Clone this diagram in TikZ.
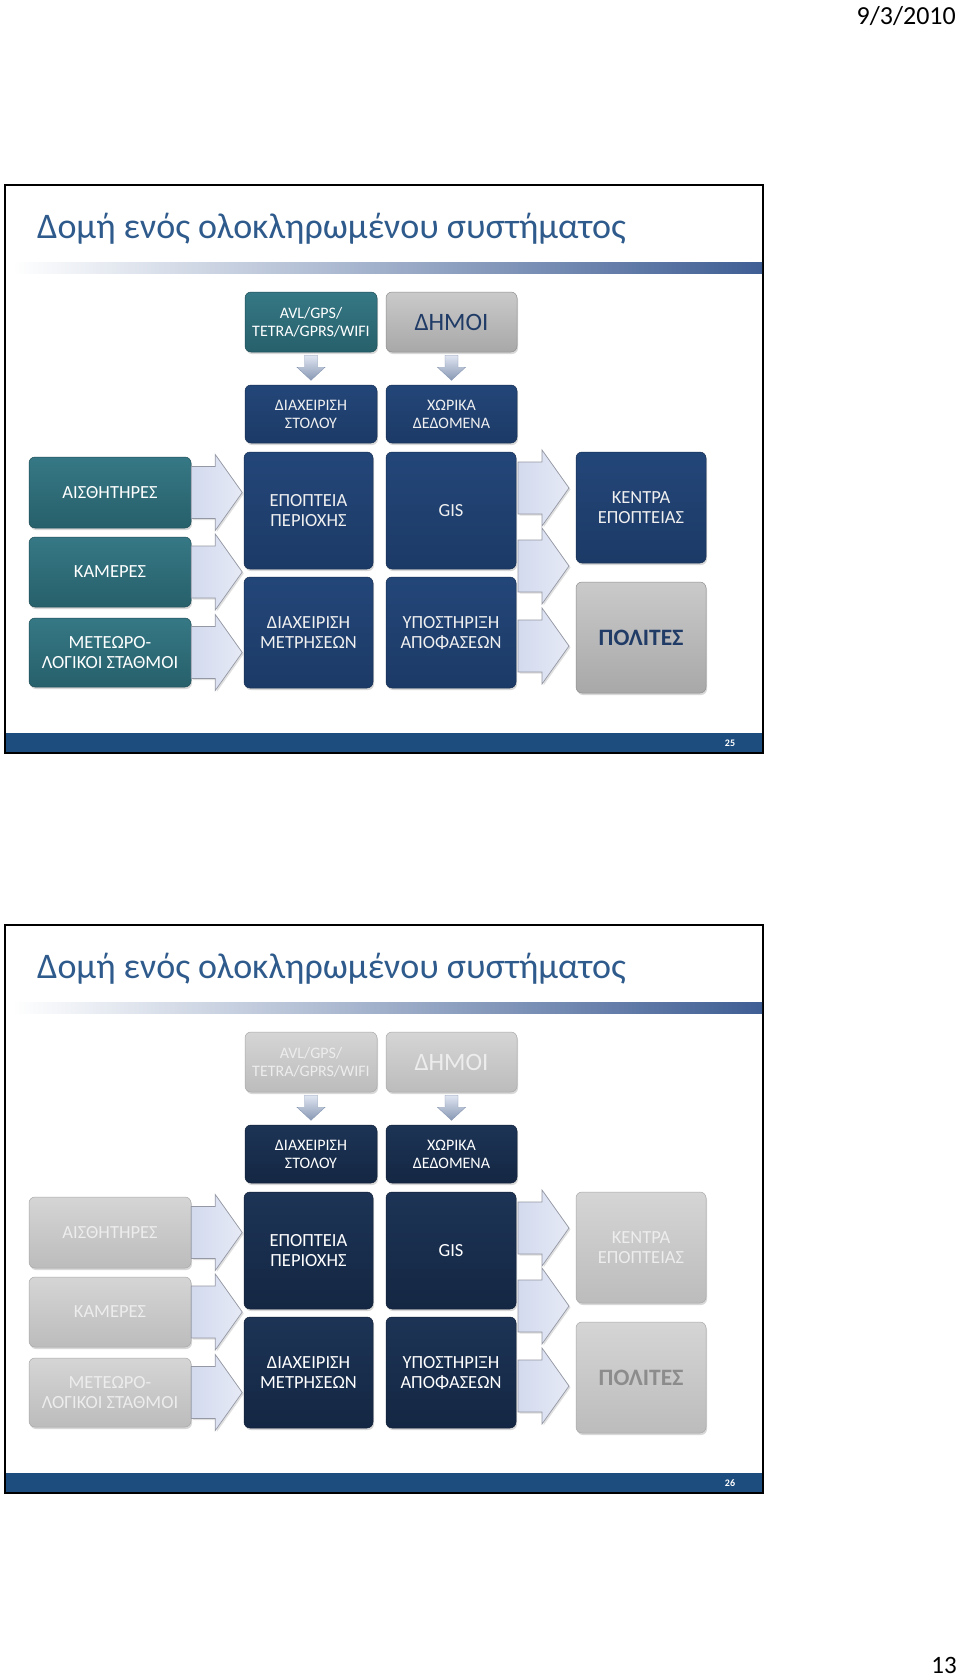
\documentclass[tikz,border=0pt]{standalone}
\usepackage{fontspec}
\setmainfont{Carlito}
\usetikzlibrary{shadows}
\definecolor{titleblue}{HTML}{2E5A8C}
\definecolor{barblue}{HTML}{1D4C7E}
\definecolor{gradblue}{HTML}{3F5E94}
\definecolor{tealT}{HTML}{367885}
\definecolor{tealB}{HTML}{26606B}
\definecolor{navyT}{HTML}{234679}
\definecolor{navyB}{HTML}{1C3A66}
\definecolor{darkT}{HTML}{1D3456}
\definecolor{darkB}{HTML}{142743}
\definecolor{greyT}{HTML}{CACACA}
\definecolor{greyB}{HTML}{A8A8A8}
\definecolor{dimT}{HTML}{D5D5D5}
\definecolor{dimB}{HTML}{BCBCBC}
\definecolor{navytext}{HTML}{1F3B66}
\definecolor{chevL}{HTML}{E6EAF6}
\definecolor{chevR}{HTML}{D3DAEE}
\definecolor{chevline}{HTML}{9498A4}
\definecolor{darrT}{HTML}{E0E6F2}
\definecolor{darrB}{HTML}{8797B3}
\newcommand\setfs[2]{\fontsize{#1}{#2}\selectfont}
\tikzset{
  box/.style={rounded corners=6pt, inner sep=0pt, align=center,
    drop shadow={shadow xshift=1pt, shadow yshift=-2pt, opacity=0.3}},
  dims/.style 2 args={minimum width=#1, minimum height=#2},
  tealbox/.style={box, top color=tealT, bottom color=tealB, draw=tealB!80!black, line width=0.5pt, text=white},
  navybox/.style={box, top color=navyT, bottom color=navyB, draw=navyB!80!black, line width=0.5pt, text=white!94!black},
  darkbox/.style={box, top color=darkT, bottom color=darkB, draw=darkB!80!black, line width=0.5pt, text=white},
  greybox/.style={box, top color=greyT, bottom color=greyB, draw=greyB!85!black, line width=0.5pt, text=navytext},
  dimbox/.style={box, top color=dimT, bottom color=dimB, draw=dimB!90!black, line width=0.5pt, text=white!93!black},
  greyboldbox/.style={greybox},
  dimboldbox/.style={dimbox, text=black!45},
  chevstyle/.style={left color=chevR, right color=chevL, draw=chevline, line width=0.7pt, line join=miter,
    drop shadow={shadow xshift=1.5pt, shadow yshift=-1.5pt, opacity=0.25}},
  darrstyle/.style={top color=darrT, bottom color=darrB, draw=darrB, line width=0.4pt},
  chevron/.pic={\path[chevstyle] (0,-26) -- (24,-26) -- (24,-38) -- (51,0) -- (24,38) -- (24,26) -- (0,26) -- cycle;},
  downarr/.pic={\path[darrstyle] (-6.5,0) -- (-6.5,12) -- (-14,12) -- (0,25) -- (14,12) -- (6.5,12) -- (6.5,0) -- cycle;},
}
\newcommand\drawslide[8]{%
\begin{scope}[yshift=#1]
  \draw[line width=2pt] (5,185) rectangle (763,753);
  \node[anchor=base west, inner sep=0pt, text=titleblue, font=\setfs{36}{40}] (title#2) at (37,238) {Δομή ενός ολοκληρωμένου συστήματος};
  \shade[left color=white, right color=gradblue] (12,262) rectangle (762,273);
  \fill[barblue] (6,733) rectangle (762,752);
  \node[text=white, font=\bfseries\setfs{10}{12}] (pg#2) at (730,743) {#8};
  % top row
  \node[#3, dims={132pt}{60pt}, font=\setfs{16}{18}] (avl#2) at (311,322) {AVL/GPS/\\TETRA/GPRS/WIFI};
  \node[#5, dims={131pt}{60pt}, font=\setfs{25}{28}] (dimoi#2) at (451.5,322) {ΔΗΜΟΙ};
  \node[#4, dims={132pt}{58pt}, font=\setfs{16}{18}] (stol#2) at (311,414) {ΔΙΑΧΕΙΡΙΣΗ\\ΣΤΟΛΟΥ};
  \node[#4, dims={131pt}{58pt}, font=\setfs{16}{18}] (xor#2) at (451.5,414) {ΧΩΡΙΚΑ\\ΔΕΔΟΜΕΝΑ};
  \pic (da#2) at ([yshift=-3pt]avl#2.south) {downarr};
  \pic (db#2) at ([yshift=-3pt]dimoi#2.south) {downarr};
  % middle blocks
  \node[#4, dims={129pt}{117pt}, font=\setfs{18.5}{20}] (epo#2) at (308.5,510.5) {ΕΠΟΠΤΕΙΑ\\ΠΕΡΙΟΧΗΣ};
  \node[#4, dims={130pt}{117pt}, font=\setfs{18.5}{20}] (gis#2) at (451,510.5) {GIS};
  \node[#4, dims={129pt}{111pt}, font=\setfs{18.5}{20}] (metr#2) at (308.5,632.5) {ΔΙΑΧΕΙΡΙΣΗ\\ΜΕΤΡΗΣΕΩΝ};
  \node[#4, dims={130pt}{111pt}, font=\setfs{18.5}{20}] (ypo#2) at (451,632.5) {ΥΠΟΣΤΗΡΙΞΗ\\ΑΠΟΦΑΣΕΩΝ};
  % left column
  \node[#3, dims={162pt}{71pt}, font=\setfs{18.5}{20}] (ais#2) at (110,492.5) {ΑΙΣΘΗΤΗΡΕΣ};
  \node[#3, dims={162pt}{70pt}, font=\setfs{18.5}{20}] (kam#2) at (110,572) {ΚΑΜΕΡΕΣ};
  \node[#3, dims={162pt}{69pt}, font=\setfs{18.5}{20}] (met#2) at (110,652.5) {ΜΕΤΕΩΡΟ-\\ΛΟΓΙΚΟΙ ΣΤΑΘΜΟΙ};
  % right column
  \node[#6, dims={130pt}{111pt}, font=\setfs{18.5}{20}] (ken#2) at (641,507.5) {ΚΕΝΤΡΑ\\ΕΠΟΠΤΕΙΑΣ};
  \node[#7, dims={130pt}{111pt}, font=\bfseries\setfs{23.5}{26}] (pol#2) at (641,637.5) {ΠΟΛΙΤΕΣ};
  % chevrons
  \pic (ca#2) at (ais#2.east) {chevron};
  \pic (cb#2) at (kam#2.east) {chevron};
  \pic (cc#2) at (met#2.east) {chevron};
  \pic (cd#2) at (518,488) {chevron};
  \pic (ce#2) at (518,566) {chevron};
  \pic (cf#2) at (518,646) {chevron};
\end{scope}}
\begin{document}
\begin{tikzpicture}[x=1pt, y=-1pt]
  \useasboundingbox (0,0) rectangle (960,1676);
  \fill[white] (0,0) rectangle (960,1676);
  \node[anchor=base east, inner sep=0pt, font=\setfs{26}{30}] (date) at (956,24) {9/3/2010};
  \node[anchor=base east, inner sep=0pt, font=\setfs{25}{30}] (sheet) at (957,1673) {13};
  \drawslide{0pt}{a}{tealbox}{navybox}{greybox}{navybox}{greyboldbox}{25}
  \drawslide{-740pt}{b}{dimbox}{darkbox}{dimbox}{dimbox}{dimboldbox}{26}
\end{tikzpicture}
\end{document}
